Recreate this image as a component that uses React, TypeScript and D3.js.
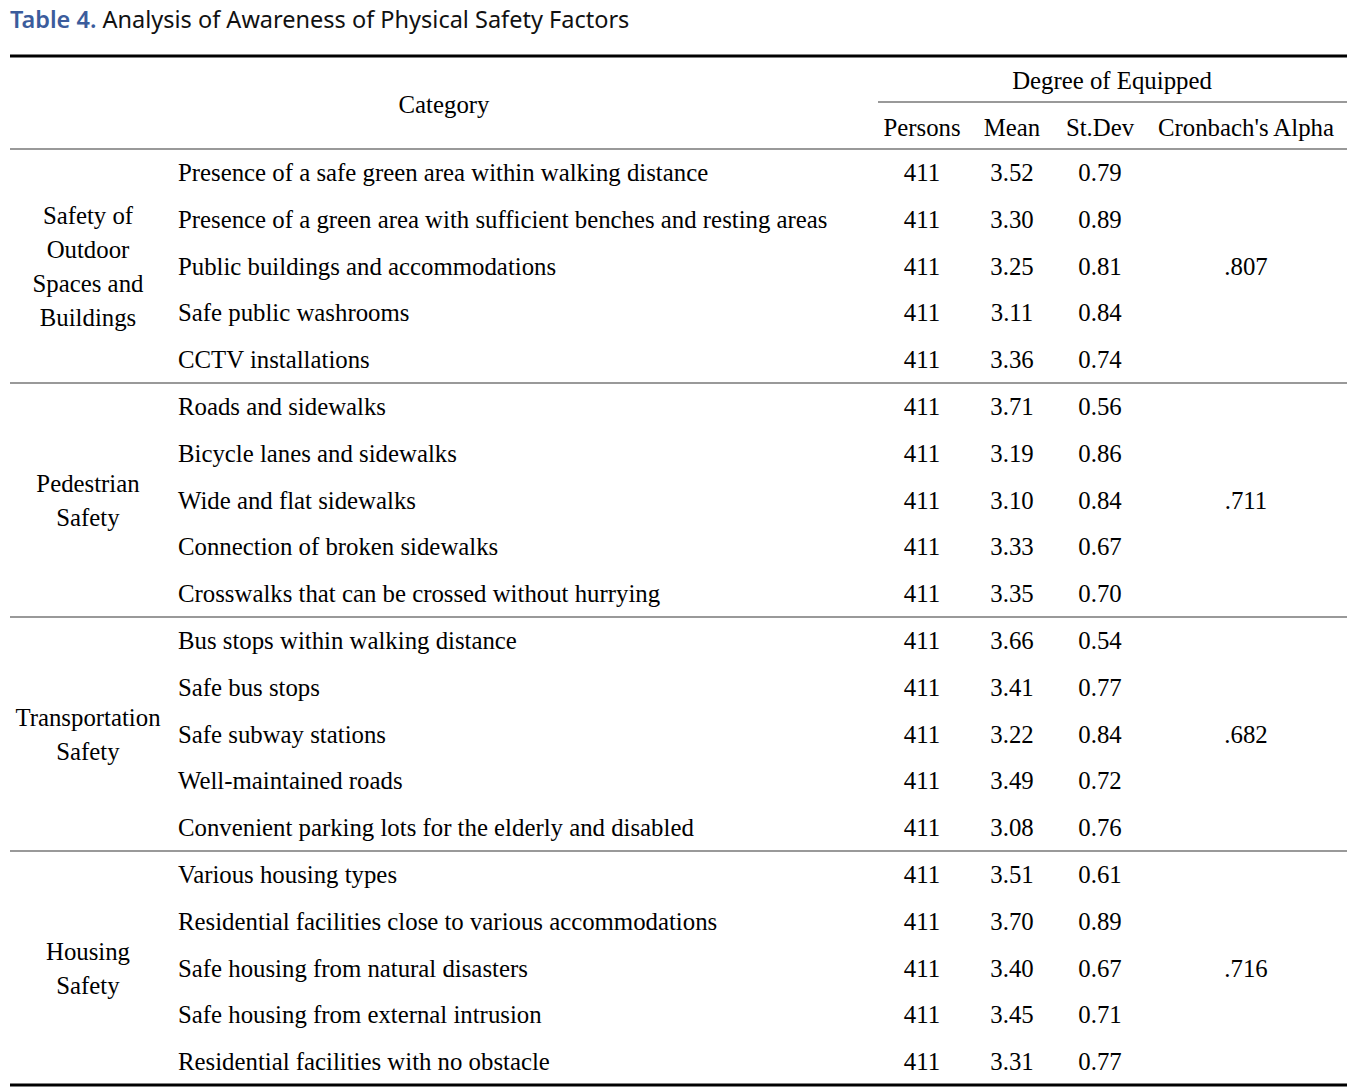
import React from "react";
import * as d3 from "d3";

const groups = [
  "Safety of\nOutdoor\nSpaces and\nBuildings",
  "Pedestrian\nSafety",
  "Transportation\nSafety",
  "Housing\nSafety",
];
const alphas = [".807", ".711", ".682", ".716"];
const items = [
  "Presence of a safe green area within walking distance",
  "Presence of a green area with sufficient benches and resting areas",
  "Public buildings and accommodations",
  "Safe public washrooms",
  "CCTV installations",
  "Roads and sidewalks",
  "Bicycle lanes and sidewalks",
  "Wide and flat sidewalks",
  "Connection of broken sidewalks",
  "Crosswalks that can be crossed without hurrying",
  "Bus stops within walking distance",
  "Safe bus stops",
  "Safe subway stations",
  "Well-maintained roads",
  "Convenient parking lots for the elderly and disabled",
  "Various housing types",
  "Residential facilities close to various accommodations",
  "Safe housing from natural disasters",
  "Safe housing from external intrusion",
  "Residential facilities with no obstacle",
];
const persons = Array(20).fill(411);
const means = [3.52, 3.30, 3.25, 3.11, 3.36, 3.71, 3.19, 3.10, 3.33, 3.35, 3.66, 3.41, 3.22, 3.49, 3.08, 3.51, 3.70, 3.40, 3.45, 3.31];
const stdevs = [0.79, 0.89, 0.81, 0.84, 0.74, 0.56, 0.86, 0.84, 0.67, 0.70, 0.54, 0.77, 0.84, 0.72, 0.76, 0.61, 0.89, 0.67, 0.71, 0.77];
const colHeaders = ["Persons", "Mean", "St.Dev", "Cronbach's Alpha"];

const W = 1367;
const H = 1088;
const serif = "'Liberation Serif', 'Times New Roman', serif";
const FS = 24.8;

export default function App() {
  const left = 10;
  const right = 1347;
  const bodyTop = 149;
  const bodyBottom = 1085;
  const y = d3.scaleLinear().domain([0, items.length]).range([bodyTop, bodyBottom]);
  const rowH = y(1) - y(0);
  const colX = [922, 1012, 1100, 1246];
  const gap = 34;

  return (
    <svg width={W} height={H} style={{ position: "absolute", left: 0, top: 0, background: "#fff" }}>
      <text x={10} y={28} fontFamily="'Noto Sans', sans-serif" fontSize={23.5} fill="#111">
        <tspan fill="#3b5c9c" fontWeight={600}>Table 4.</tspan>
        <tspan> Analysis of Awareness of Physical Safety Factors</tspan>
      </text>
      {/* rules */}
      <line x1={left} x2={right} y1={56} y2={56} stroke="#000" strokeWidth={3} />
      <line x1={878} x2={right} y1={102} y2={102} stroke="#777" strokeWidth={1.5} />
      <line x1={left} x2={right} y1={bodyTop} y2={bodyTop} stroke="#777" strokeWidth={1.5} />
      {[5, 10, 15].map((i) => (
        <line key={i} x1={left} x2={right} y1={y(i)} y2={y(i)} stroke="#777" strokeWidth={1.5} />
      ))}
      <line x1={left} x2={right} y1={bodyBottom} y2={bodyBottom} stroke="#000" strokeWidth={3} />

      <g fontFamily={serif} fontSize={FS} fill="#000">
        <text x={444} y={104} textAnchor="middle" dominantBaseline="central">Category</text>
        <text x={1112} y={80} textAnchor="middle" dominantBaseline="central">Degree of Equipped</text>
        {colHeaders.map((h, i) => (
          <text key={h} x={colX[i]} y={127} textAnchor="middle" dominantBaseline="central">{h}</text>
        ))}
        {items.map((it, i) => {
          const cy = y(i) + rowH / 2;
          return (
            <g key={it}>
              <text x={178} y={cy} dominantBaseline="central">{it}</text>
              <text x={colX[0]} y={cy} textAnchor="middle" dominantBaseline="central">{persons[i]}</text>
              <text x={colX[1]} y={cy} textAnchor="middle" dominantBaseline="central">{means[i].toFixed(2)}</text>
              <text x={colX[2]} y={cy} textAnchor="middle" dominantBaseline="central">{stdevs[i].toFixed(2)}</text>
            </g>
          );
        })}
        {groups.map((g, gi) => {
          const cy = (y(gi * 5) + y(gi * 5 + 5)) / 2;
          const lines = g.split("\n");
          return (
            <g key={gi}>
              {lines.map((ln, li) => (
                <text key={li} x={88} y={cy + (li - (lines.length - 1) / 2) * gap} textAnchor="middle" dominantBaseline="central">{ln}</text>
              ))}
              <text x={colX[3]} y={cy} textAnchor="middle" dominantBaseline="central">{alphas[gi]}</text>
            </g>
          );
        })}
      </g>
    </svg>
  );
}
